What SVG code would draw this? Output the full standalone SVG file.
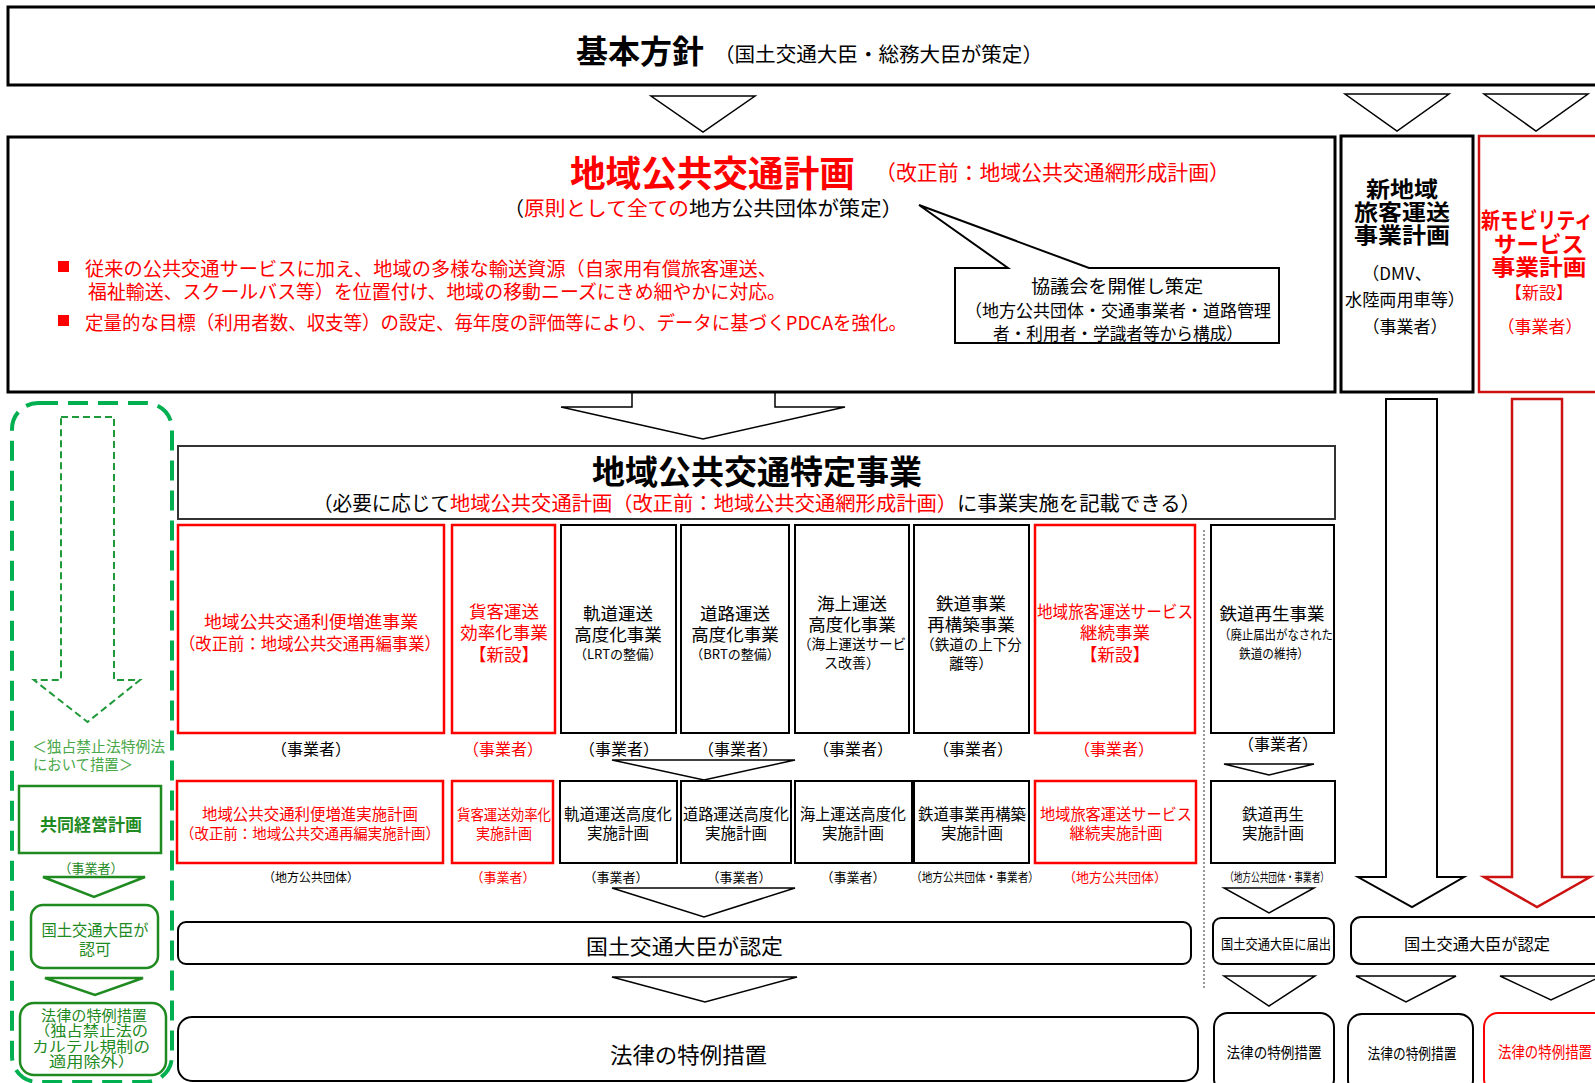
<svg xmlns="http://www.w3.org/2000/svg" width="1595" height="1083" viewBox="0 0 1595 1083">
<style>
text{font-family:"Noto Sans CJK JP","Noto Sans",sans-serif;dominant-baseline:central;fill:#000}
.m{text-anchor:middle}
.r{fill:#ff0000}
.g{fill:#1f8a1f}
.lg{fill:#4aa84a}
.b{font-weight:bold}
.box{fill:#fff;stroke:#000;stroke-width:2}
.thick{fill:#fff;stroke:#000;stroke-width:3}
.rbox{fill:#fff;stroke:#ff0000;stroke-width:2.5}
.tri{fill:#fff;stroke:#000;stroke-width:1.5}
.gbox{fill:#fff;stroke:#1f8a1f;stroke-width:2.5}
</style>
<rect width="1595" height="1083" fill="#fff"/>

<g id="connectors">
  <polygon class="tri" points="651,96 755,96 703,132"/>
  <polygon class="tri" points="1345,94 1449,94 1397,131"/>
  <polygon class="tri" points="1484,94 1588,94 1536,131"/>
  <polygon class="tri" points="632,392 632,407 561,407 703,439 845,407 775,407 775,392"/>
  <polygon class="tri" points="612,760 795,760 704,780"/>
  <polygon class="tri" points="1224,764 1314,764 1269,775"/>
  <polygon class="tri" points="612,888 795,888 704,917"/>
  <polygon class="tri" points="1224,888 1314,888 1269,913"/>
  <polygon class="tri" points="612,977 797,977 705,1002"/>
  <polygon class="tri" points="1224,976 1315,976 1269,1006"/>
  <polygon class="tri" points="1356,976 1456,976 1406,1002"/>
  <polygon class="tri" points="1500,976 1602,976 1551,1000"/>
  <polygon fill="#fff" stroke="#000" stroke-width="2" points="1386,399 1437,399 1437,877 1464,877 1412,907 1358,877 1386,877"/>
  <polygon fill="#fff" stroke="#cc1111" stroke-width="2.5" points="1512,399 1562,399 1562,877 1590,877 1537,907 1484,877 1512,877"/>
  <line x1="1204" y1="530" x2="1204" y2="990" stroke="#777" stroke-width="1.5" stroke-dasharray="2,2"/>
  <polygon fill="none" stroke="#1f9a3a" stroke-width="2" stroke-dasharray="7,4" points="61,417 114,417 114,680 140,680 87.5,722 34,680 61,680"/>
  <polygon fill="#fff" stroke="#1f8a1f" stroke-width="2.5" points="43,877 145,877 94,897"/>
  <polygon fill="#fff" stroke="#1f8a1f" stroke-width="2.5" points="45,978 143,978 95,995"/>
</g>

<g id="kihon">
  <rect class="thick" x="8" y="7" width="1600" height="78"/>
  <text x="576" y="49" class="b" font-size="32" textLength="128" lengthAdjust="spacingAndGlyphs">基本方針</text>
  <text x="714" y="53" font-size="20" textLength="329" lengthAdjust="spacingAndGlyphs">（国土交通大臣・総務大臣が策定）</text>
</g>

<g id="chiiki-keikaku">
  <rect class="thick" x="8" y="137" width="1327" height="255"/>
  <text x="570" y="171" class="r b" font-size="36" textLength="285" lengthAdjust="spacingAndGlyphs">地域公共交通計画</text>
  <text x="875" y="171" class="r" font-size="21" textLength="355" lengthAdjust="spacingAndGlyphs">（改正前：地域公共交通網形成計画）</text>
  <text x="504" y="207" font-size="20">（</text>
  <text x="524" y="207" class="r" font-size="20" textLength="165" lengthAdjust="spacingAndGlyphs">原則として全ての</text>
  <text x="689" y="207" font-size="20" textLength="214" lengthAdjust="spacingAndGlyphs">地方公共団体が策定）</text>
  <rect x="58" y="261" width="11" height="11" fill="#ff0000"/>
  <rect x="58" y="315" width="11" height="11" fill="#ff0000"/>
  <text x="85" y="267" class="r" font-size="19" textLength="692" lengthAdjust="spacingAndGlyphs">従来の公共交通サービスに加え、地域の多様な輸送資源（自家用有償旅客運送、</text>
  <text x="88" y="290" class="r" font-size="19" textLength="698" lengthAdjust="spacingAndGlyphs">福祉輸送、スクールバス等）を位置付け、地域の移動ニーズにきめ細やかに対応。</text>
  <text x="85" y="321" class="r" font-size="19" textLength="822" lengthAdjust="spacingAndGlyphs">定量的な目標（利用者数、収支等）の設定、毎年度の評価等により、データに基づくPDCAを強化。</text>
</g>

<g id="kyogikai">
  <path d="M955,268 H1008 L919,205 L1089,268 H1279 V343 H955 Z" fill="#fff" stroke="#000" stroke-width="2"/>
  <text x="1117" y="285" class="m" font-size="18" textLength="172" lengthAdjust="spacingAndGlyphs">協議会を開催し策定</text>
  <text x="1118" y="309" class="m" font-size="17" textLength="306" lengthAdjust="spacingAndGlyphs">（地方公共団体・交通事業者・道路管理</text>
  <text x="1118" y="332" class="m" font-size="17" textLength="250" lengthAdjust="spacingAndGlyphs">者・利用者・学識者等から構成）</text>
</g>

<g id="shin-chiiki">
  <rect class="thick" x="1341" y="136" width="132" height="256"/>
  <text x="1402" y="187" class="m b" font-size="22" textLength="72" lengthAdjust="spacingAndGlyphs">新地域</text>
  <text x="1402" y="210" class="m b" font-size="22" textLength="96" lengthAdjust="spacingAndGlyphs">旅客運送</text>
  <text x="1402" y="233" class="m b" font-size="22" textLength="96" lengthAdjust="spacingAndGlyphs">事業計画</text>
  <text x="1397" y="272" class="m" font-size="17">（DMV、</text>
  <text x="1405" y="298" class="m" font-size="17" textLength="120" lengthAdjust="spacingAndGlyphs">水陸両用車等）</text>
  <text x="1405" y="325" class="m" font-size="17">（事業者）</text>
</g>

<g id="shin-mobility">
  <rect x="1479" y="136" width="140" height="256" fill="#fff" stroke="#cc1111" stroke-width="2.5"/>
  <text x="1481" y="218" class="r b" font-size="22" textLength="112" lengthAdjust="spacingAndGlyphs">新モビリティ</text>
  <text x="1539" y="242" class="m r b" font-size="22" textLength="90" lengthAdjust="spacingAndGlyphs">サービス</text>
  <text x="1539" y="265" class="m r b" font-size="22" textLength="95" lengthAdjust="spacingAndGlyphs">事業計画</text>
  <text x="1539" y="291" class="m r" font-size="17">【新設】</text>
  <text x="1540" y="325" class="m r" font-size="17">（事業者）</text>
</g>

<g id="tokutei-jigyo">
  <rect x="178" y="446" width="1157" height="73" fill="#fff" stroke="#333" stroke-width="2"/>
  <text x="592" y="470" class="b" font-size="33" textLength="330" lengthAdjust="spacingAndGlyphs">地域公共交通特定事業</text>
  <text x="313" y="502" font-size="20" textLength="137" lengthAdjust="spacingAndGlyphs">（必要に応じて</text>
  <text x="450" y="502" class="r" font-size="20" textLength="507" lengthAdjust="spacingAndGlyphs">地域公共交通計画（改正前：地域公共交通網形成計画）</text>
  <text x="957" y="502" font-size="20" textLength="244" lengthAdjust="spacingAndGlyphs">に事業実施を記載できる）</text>
</g>

<g id="jigyo-ribenzoshin">
  <rect class="rbox" x="178" y="525" width="266" height="208"/>
  <text x="311" y="620" class="m r" font-size="17" textLength="214" lengthAdjust="spacingAndGlyphs">地域公共交通利便増進事業</text>
  <text x="310" y="642" class="m r" font-size="17" textLength="262" lengthAdjust="spacingAndGlyphs">（改正前：地域公共交通再編事業）</text>
  <text x="311" y="748" class="m" font-size="16">（事業者）</text>
</g>
<g id="jigyo-kakyaku">
  <rect class="rbox" x="452" y="525" width="103" height="208"/>
  <text x="504" y="610" class="m r" font-size="17.5">貨客運送</text>
  <text x="504" y="631" class="m r" font-size="17.5">効率化事業</text>
  <text x="504" y="653" class="m r" font-size="17.5">【新設】</text>
  <text x="503" y="748" class="m r" font-size="16">（事業者）</text>
</g>
<g id="jigyo-kido">
  <rect class="box" x="561" y="525" width="115" height="208"/>
  <text x="618" y="612" class="m" font-size="17.5">軌道運送</text>
  <text x="618" y="633" class="m" font-size="17.5">高度化事業</text>
  <text x="618" y="653" class="m" font-size="13">（LRTの整備）</text>
  <text x="619" y="748" class="m" font-size="16">（事業者）</text>
</g>
<g id="jigyo-doro">
  <rect class="box" x="681" y="525" width="108" height="208"/>
  <text x="735" y="612" class="m" font-size="17.5">道路運送</text>
  <text x="735" y="633" class="m" font-size="17.5">高度化事業</text>
  <text x="735" y="653" class="m" font-size="13">（BRTの整備）</text>
  <text x="738" y="748" class="m" font-size="16">（事業者）</text>
</g>
<g id="jigyo-kaijo">
  <rect class="box" x="795" y="525" width="114" height="208"/>
  <text x="852" y="602" class="m" font-size="17.5">海上運送</text>
  <text x="852" y="623" class="m" font-size="17.5">高度化事業</text>
  <text x="852" y="643" class="m" font-size="14" textLength="108" lengthAdjust="spacingAndGlyphs">（海上運送サービ</text>
  <text x="852" y="662" class="m" font-size="14">ス改善）</text>
  <text x="853" y="748" class="m" font-size="16">（事業者）</text>
</g>
<g id="jigyo-tetsudo-saikochiku">
  <rect class="box" x="914" y="525" width="115" height="208"/>
  <text x="971" y="602" class="m" font-size="17.5">鉄道事業</text>
  <text x="971" y="623" class="m" font-size="17.5">再構築事業</text>
  <text x="971" y="643" class="m" font-size="14.5">（鉄道の上下分</text>
  <text x="971" y="662" class="m" font-size="14.5">離等）</text>
  <text x="973" y="748" class="m" font-size="16">（事業者）</text>
</g>
<g id="jigyo-keizoku">
  <rect class="rbox" x="1035" y="525" width="160" height="208"/>
  <text x="1115" y="610" class="m r" font-size="17" textLength="156" lengthAdjust="spacingAndGlyphs">地域旅客運送サービス</text>
  <text x="1115" y="631" class="m r" font-size="17.5">継続事業</text>
  <text x="1115" y="653" class="m r" font-size="17.5">【新設】</text>
  <text x="1114" y="748" class="m r" font-size="16">（事業者）</text>
</g>
<g id="jigyo-tetsudo-saisei">
  <rect class="box" x="1211" y="525" width="123" height="208"/>
  <text x="1272" y="612" class="m" font-size="17.5">鉄道再生事業</text>
  <text x="1276" y="633" class="m" font-size="13" textLength="114" lengthAdjust="spacingAndGlyphs">（廃止届出がなされた</text>
  <text x="1274" y="652" class="m" font-size="13" textLength="70" lengthAdjust="spacingAndGlyphs">鉄道の維持）</text>
  <text x="1278" y="743" class="m" font-size="16">（事業者）</text>
</g>

<g id="keikaku-ribenzoshin">
  <rect class="rbox" x="177" y="781" width="266" height="82"/>
  <text x="310" y="813" class="m r" font-size="15.5" textLength="216" lengthAdjust="spacingAndGlyphs">地域公共交通利便増進実施計画</text>
  <text x="310" y="832" class="m r" font-size="15" textLength="260" lengthAdjust="spacingAndGlyphs">（改正前：地域公共交通再編実施計画）</text>
  <text x="311" y="876" class="m" font-size="12.5" textLength="96" lengthAdjust="spacingAndGlyphs">（地方公共団体）</text>
</g>
<g id="keikaku-kakyaku">
  <rect class="rbox" x="452" y="781" width="101" height="82"/>
  <text x="504" y="813" class="m r" font-size="15" textLength="94" lengthAdjust="spacingAndGlyphs">貨客運送効率化</text>
  <text x="504" y="832" class="m r" font-size="15" textLength="56" lengthAdjust="spacingAndGlyphs">実施計画</text>
  <text x="503" y="876" class="m r" font-size="13">（事業者）</text>
</g>
<g id="keikaku-kido">
  <rect class="box" x="560" y="781" width="117" height="82"/>
  <text x="618" y="813" class="m" font-size="15.5" textLength="108" lengthAdjust="spacingAndGlyphs">軌道運送高度化</text>
  <text x="618" y="832" class="m" font-size="15.5">実施計画</text>
  <text x="616" y="876" class="m" font-size="13">（事業者）</text>
</g>
<g id="keikaku-doro">
  <rect class="box" x="681" y="781" width="110" height="82"/>
  <text x="736" y="813" class="m" font-size="15.5" textLength="106" lengthAdjust="spacingAndGlyphs">道路運送高度化</text>
  <text x="736" y="832" class="m" font-size="15.5">実施計画</text>
  <text x="739" y="876" class="m" font-size="13">（事業者）</text>
</g>
<g id="keikaku-kaijo">
  <rect class="box" x="795" y="781" width="117" height="82"/>
  <text x="853" y="813" class="m" font-size="15.5" textLength="106" lengthAdjust="spacingAndGlyphs">海上運送高度化</text>
  <text x="853" y="832" class="m" font-size="15.5">実施計画</text>
  <text x="853" y="876" class="m" font-size="13">（事業者）</text>
</g>
<g id="keikaku-tetsudo-saikochiku">
  <rect class="box" x="914" y="781" width="115" height="82"/>
  <text x="972" y="813" class="m" font-size="15.5" textLength="108" lengthAdjust="spacingAndGlyphs">鉄道事業再構築</text>
  <text x="972" y="832" class="m" font-size="15.5">実施計画</text>
  <text x="975" y="876" class="m" font-size="12.5" textLength="128" lengthAdjust="spacingAndGlyphs">（地方公共団体・事業者）</text>
</g>
<g id="keikaku-keizoku">
  <rect class="rbox" x="1035" y="781" width="161" height="82"/>
  <text x="1116" y="813" class="m r" font-size="15.5" textLength="152" lengthAdjust="spacingAndGlyphs">地域旅客運送サービス</text>
  <text x="1116" y="832" class="m r" font-size="15.5">継続実施計画</text>
  <text x="1115" y="876" class="m r" font-size="13">（地方公共団体）</text>
</g>
<g id="keikaku-tetsudo-saisei">
  <rect class="box" x="1211" y="781" width="124" height="82"/>
  <text x="1273" y="813" class="m" font-size="15.5">鉄道再生</text>
  <text x="1273" y="832" class="m" font-size="15.5">実施計画</text>
  <text x="1277" y="876" class="m" font-size="12" textLength="104" lengthAdjust="spacingAndGlyphs">（地方公共団体・事業者）</text>
</g>

<g id="nintei-main">
  <rect class="box" x="178" y="922" width="1013" height="42" rx="8"/>
  <text x="586" y="945" font-size="21" textLength="197" lengthAdjust="spacingAndGlyphs">国土交通大臣が認定</text>
</g>
<g id="todokede">
  <rect class="box" x="1213" y="918" width="121" height="46" rx="8"/>
  <text x="1276" y="943" class="m" font-size="14" textLength="110" lengthAdjust="spacingAndGlyphs">国土交通大臣に届出</text>
</g>
<g id="nintei-right">
  <rect class="box" x="1351" y="917" width="260" height="47" rx="10"/>
  <text x="1404" y="943" font-size="16" textLength="146" lengthAdjust="spacingAndGlyphs">国土交通大臣が認定</text>
</g>

<g id="tokurei-main">
  <rect class="box" x="178" y="1017" width="1020" height="64" rx="14"/>
  <text x="610" y="1053" font-size="22" textLength="157" lengthAdjust="spacingAndGlyphs">法律の特例措置</text>
</g>
<g id="tokurei-saisei">
  <rect class="box" x="1214" y="1013" width="120" height="80" rx="14"/>
  <text x="1274" y="1051" class="m" font-size="15" textLength="95" lengthAdjust="spacingAndGlyphs">法律の特例措置</text>
</g>
<g id="tokurei-shin-chiiki">
  <rect class="box" x="1348" y="1014" width="125" height="80" rx="14"/>
  <text x="1412" y="1052" class="m" font-size="15" textLength="89" lengthAdjust="spacingAndGlyphs">法律の特例措置</text>
</g>
<g id="tokurei-mobility">
  <rect x="1484" y="1013" width="150" height="80" rx="14" fill="#fff" stroke="#ff0000" stroke-width="2"/>
  <text x="1498" y="1051" class="r" font-size="16" textLength="94" lengthAdjust="spacingAndGlyphs">法律の特例措置</text>
</g>

<g id="dokkin-region">
  <rect x="12" y="403" width="160" height="679" rx="26" fill="none" stroke="#00b050" stroke-width="4" stroke-dasharray="20,10"/>
  <text x="32" y="745" class="lg" font-size="15" textLength="133" lengthAdjust="spacingAndGlyphs">＜独占禁止法特例法</text>
  <text x="33" y="763" class="lg" font-size="15" textLength="100" lengthAdjust="spacingAndGlyphs">において措置＞</text>
</g>
<g id="kyodo-keiei">
  <rect class="gbox" x="19" y="786" width="142" height="67"/>
  <text x="91" y="823" class="m g b" font-size="17" textLength="102" lengthAdjust="spacingAndGlyphs">共同経営計画</text>
  <text x="91" y="867" class="m g" font-size="13">（事業者）</text>
</g>
<g id="ninka">
  <rect class="gbox" x="31" y="905" width="127" height="63" rx="12"/>
  <text x="95" y="929" class="m g" font-size="16" textLength="107" lengthAdjust="spacingAndGlyphs">国土交通大臣が</text>
  <text x="95" y="948" class="m g" font-size="16">認可</text>
</g>
<g id="tokurei-green">
  <rect class="gbox" x="20" y="1003" width="146" height="72" rx="14"/>
  <text x="94" y="1014" class="m g" font-size="14.5" textLength="106" lengthAdjust="spacingAndGlyphs">法律の特例措置</text>
  <text x="91" y="1029.5" class="m g" font-size="14.5" textLength="114" lengthAdjust="spacingAndGlyphs">（独占禁止法の</text>
  <text x="91" y="1045" class="m g" font-size="14.5" textLength="118" lengthAdjust="spacingAndGlyphs">カルテル規制の</text>
  <text x="92" y="1060.5" class="m g" font-size="14.5" textLength="86" lengthAdjust="spacingAndGlyphs">適用除外）</text>
</g>
</svg>
